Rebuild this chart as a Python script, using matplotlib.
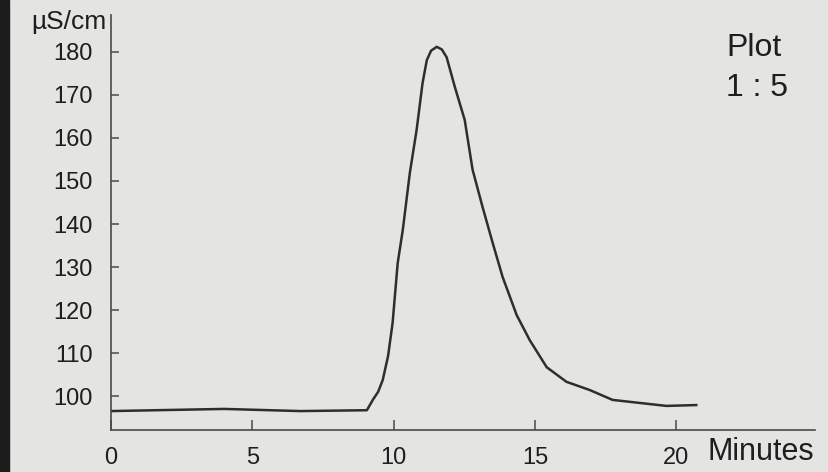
import matplotlib
matplotlib.use("Agg")
import matplotlib.pyplot as plt
from matplotlib.patches import Rectangle

plt.rcParams['font.family'] = ['Liberation Sans', 'DejaVu Sans']

# Data
minutes = [0.0, 4.0, 6.7, 9.05, 9.26, 9.45, 9.61, 9.80, 9.96, 10.14, 10.32, 10.57, 10.81,
           11.02, 11.17, 11.32, 11.52, 11.70, 11.87, 12.16, 12.51, 12.79, 13.14, 13.50,
           13.85, 14.35, 14.81, 15.41, 16.11, 16.93, 17.74, 18.69, 19.65, 20.7]
conductivity = [96.5, 97.0, 96.5, 96.7, 99.1, 101.0, 103.7, 109.3, 117.0, 130.9, 138.6,
                151.9, 161.9, 172.8, 178.1, 180.3, 181.2, 180.6, 178.8, 171.9, 164.2,
                152.6, 144.0, 135.6, 127.7, 118.8, 113.0, 106.7, 103.3, 101.4, 99.1,
                98.4, 97.7, 97.9]
x_ticks = [0, 5, 10, 15, 20]
y_ticks = [100, 110, 120, 130, 140, 150, 160, 170, 180]

W, H = 829, 472
bg = '#e4e4e2'
fig = plt.figure(figsize=(W / 100, H / 100), dpi=100, facecolor=bg)
ax = fig.add_axes([111 / W, 1 - 430 / H, (815 - 111) / W, (430 - 15) / H], facecolor=bg)

ax.plot(minutes, conductivity, color='#2e2e2e', lw=1.8, solid_joinstyle='round')

ax.set_xlim(0, 24.9)
ax.set_ylim(92.1, 188.6)
ax.set_xticks(x_ticks)
ax.set_yticks(y_ticks)
ax.set_xticklabels([str(v) for v in x_ticks])
ax.set_yticklabels([str(v) for v in y_ticks])

for s in ['top', 'right']:
    ax.spines[s].set_visible(False)
for s in ['left', 'bottom']:
    ax.spines[s].set_color('#4a4a4a')
    ax.spines[s].set_linewidth(1.2)

ax.tick_params(axis='x', direction='in', length=7, width=1.1, color='#4a4a4a',
               pad=12, labelsize=17, labelcolor='#1e1e1e')
ax.tick_params(axis='y', direction='in', length=6, width=1.1, color='#4a4a4a',
               pad=13, labelsize=17, labelcolor='#1e1e1e')

fig.text(107 / W, 1 - 22 / H, 'µS/cm', ha='right', va='center', fontsize=19, color='#1e1e1e')
fig.text(708 / W, 1 - 452 / H, 'Minutes', ha='left', va='center', fontsize=22, color='#1e1e1e')
fig.text(726 / W, 1 - 48 / H, 'Plot', ha='left', va='center', fontsize=23, color='#1e1e1e')
fig.text(726 / W, 1 - 88 / H, '1 : 5', ha='left', va='center', fontsize=23, color='#1e1e1e')

# dark photo edge on the left
fig.add_artist(Rectangle((0, 0), 9 / W, 1, transform=fig.transFigure,
                         color='#1c1c1c', zorder=0))

fig.savefig('out.png', dpi=100, facecolor=bg)
